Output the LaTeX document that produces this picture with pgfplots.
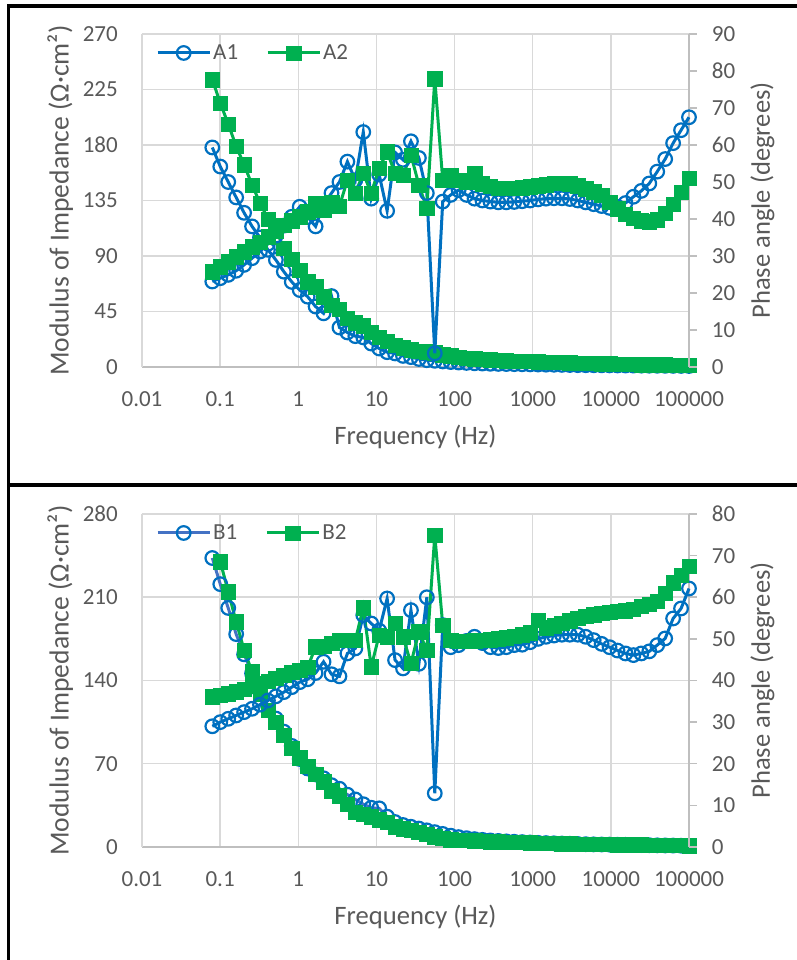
\documentclass[border=0pt]{standalone}
\usepackage{fontspec}
\setmainfont{Carlito}
\usepackage{pgfplots}
\usepackage{pgfplotstable}
\pgfplotsset{compat=1.18}
\definecolor{eblue}{HTML}{0070C0}
\definecolor{eblueb}{HTML}{4472C4}
\definecolor{egreen}{HTML}{00B050}
\definecolor{gridc}{HTML}{D9D9D9}
\definecolor{axc}{HTML}{BFBFBF}
\definecolor{labc}{HTML}{595959}

% top panel: f, A1 modulus, A1 phase, A2 modulus, A2 phase
\pgfplotstableread{
f m1 p1 m2 p2
0.0794 178 23.1 233 25.8
0.1004 162.5 24.0 214 27.1
0.1269 150 24.9 197 28.5
0.1603 137.5 26.0 179 29.8
0.2026 125 27.6 164 31.2
0.2561 114 29.4 147.6 32.5
0.3236 105 31.2 133 33.8
0.4090 95 33.3 120 35.2
0.5168 86.8 35.5 111 36.8
0.6531 77.3 38.2 96.5 38.3
0.8254 69 40.6 87.6 39.5
1.043 62.4 43.3 78.6 40.6
1.318 57 40.5 69 42.0
1.666 49 38.0 65 44.2
2.105 43.5 44.0 57 42.5
2.661 57.5 47.0 50 44.5
3.363 32 50.0 47 43.5
4.250 28 55.5 39.5 50.5
5.370 25 50.5 36 47.0
6.787 24 63.5 33.5 52.3
8.577 19 45.5 28 47.0
10.84 15 52.0 24 53.7
13.70 12 42.2 21 58.2
17.31 11 58.0 17.5 52.3
21.88 9 56.0 15.5 51.9
27.65 8 61.0 14 57.3
34.94 6.5 56.5 13 49.2
44.16 5.5 47.0 12.4 42.9
55.81 5.0 3.7 11.5 77.9
70.53 4.5 44.7 10 50.5
89.13 4.0 46.5 9 51.9
112.6 3.6 47.8 8.0 50.5
142.3 3.3 46.5 7.3 50.0
179.9 3.0 45.5 6.8 52.3
227.3 2.8 45.0 6.3 49.5
287.3 2.6 44.7 5.9 48.8
363.1 2.5 44.5 5.5 48.4
458.9 2.4 44.5 5.2 48.3
579.9 2.3 44.6 4.9 48.3
732.8 2.2 44.8 4.7 48.5
926.1 2.1 45.0 4.5 48.7
1170 2.0 45.3 4.3 49.0
1479 1.9 45.5 4.1 49.3
1869 1.8 45.6 3.9 49.6
2362 1.7 45.6 3.7 49.7
2985 1.6 45.4 3.5 49.5
3773 1.5 45.0 3.3 49.0
4768 1.45 44.5 3.1 48.2
6026 1.4 44.0 2.9 47.4
7615 1.35 43.5 2.7 46.5
9624 1.3 43.0 2.55 44.5
12162 1.25 43.3 2.4 42.8
15370 1.2 44.3 2.25 41.3
19424 1.15 46.0 2.1 40.2
24547 1.1 47.6 2.0 39.5
31022 1.05 49.6 1.9 39.3
39204 1.0 52.8 1.8 39.8
49545 0.95 56.2 1.7 41.5
62613 0.9 60.5 1.55 44.0
79127 0.85 64.0 1.45 47.2
100000 0.8 67.5 1.3 51.0
}\toptab

% bottom panel: f, B1 modulus, B1 phase, B2 modulus, B2 phase
\pgfplotstableread{
f m1 p1 m2 p2
0.0794 243 29.0 nan 36.1
0.1004 221 30.0 240 36.4
0.1269 201 30.8 214.7 36.8
0.1603 179 31.6 189.4 37.3
0.2026 162 32.4 165.6 37.9
0.2561 146 33.2 147.4 38.6
0.3236 131 34.2 129 39.3
0.4090 119 35.2 115 39.9
0.5168 108 36.2 105 40.6
0.6531 97 37.2 94 41.3
0.8254 85 38.4 83 42.0
1.043 74 39.6 75 42.5
1.318 66 40.3 68 43.2
1.666 61 41.8 61 48.1
2.105 57.8 44.5 55 48.3
2.661 52 41.5 47.5 48.9
3.363 49 41.0 43 49.7
4.250 44 46.5 36 49.7
5.370 40 47.7 29.5 49.7
6.787 36 55.7 27.5 57.5
8.577 33 53.7 25.5 43.3
10.84 32.5 52.0 23 50.9
13.70 25.5 59.7 21 50.5
17.31 21 44.9 17.1 53.7
21.88 18.5 42.9 15.5 50.5
27.65 17 56.9 14.3 44.1
34.94 15.5 44.0 12.5 51.7
44.16 14 60.0 11.0 47.3
55.81 12.5 12.9 8.5 74.9
70.53 11 53.3 7.3 53.3
89.13 9.5 48.0 6.2 49.7
112.6 8.3 48.5 5.9 49.5
142.3 7.4 49.5 5.5 49.5
179.9 6.6 50.5 5.2 49.6
227.3 6.0 49.0 4.9 49.7
287.3 5.5 48.0 4.6 49.8
363.1 5.1 47.8 4.4 50.0
458.9 4.7 48.0 4.2 50.3
579.9 4.4 48.5 4.0 50.6
732.8 4.1 48.6 3.8 51.0
926.1 3.8 49.2 3.6 51.5
1170 3.5 50.0 3.4 54.5
1479 3.3 50.5 3.2 52.7
1869 3.1 50.8 3.0 53.2
2362 2.9 51.0 2.8 53.8
2985 2.7 51.0 2.7 54.4
3773 2.5 51.0 2.6 54.9
4768 2.35 50.5 2.5 55.4
6026 2.2 49.7 2.4 55.8
7615 2.1 48.8 2.3 56.1
9624 2.0 48.0 2.2 56.4
12162 1.9 47.2 2.1 56.6
15370 1.8 46.5 2.0 56.8
19424 1.7 46.1 1.9 57.1
24547 1.6 46.5 1.8 57.8
31022 1.5 47.0 1.7 58.4
39204 1.4 48.5 1.6 59.0
49545 1.3 50.1 1.5 61.0
62613 1.2 54.9 1.4 63.5
79127 1.1 57.3 1.3 65.3
100000 1.0 62.1 1.2 67.5
}\bottab

\tikzset{
  sone/.style={color=eblue, line width=3bp, mark=o, mark size=6.8bp, mark options={line width=2.2bp, draw=eblue, fill=none}},
  sonel/.style={color=eblueb, line width=3bp, mark=o, mark size=6.8bp, mark options={line width=2.2bp, draw=eblue, fill=none}},
  stwo/.style={color=egreen, line width=3bp, mark=square*, mark size=7.2bp, mark options={line width=0.4bp, draw=egreen, fill=egreen}},
}

\begin{document}
\begin{tikzpicture}[x=1bp,y=1bp]
\useasboundingbox (0,0) rectangle (797,960);

% ---------- top panel ----------
\begin{semilogxaxis}[at={(142bp,593bp)}, anchor=south west,
    scale only axis, width=547bp, height=333bp,
    xmin=0.01, xmax=100000, ymin=0, ymax=270, ytick={0,45,90,135,180,225,270},
    clip=false,
    tick label style={font=\fontsize{23bp}{27bp}\selectfont, text=labc, inner sep=0pt},
    label style={font=\fontsize{26.6bp}{31bp}\selectfont, text=labc},
    /pgf/number format/assume math mode=true,
    axis x line*=bottom, axis y line*=left,
    x axis line style={draw=axc, line width=1.5bp},
    y axis line style={draw=gridc, line width=1.5bp},
    grid=major, major grid style={draw=gridc, line width=1.5bp},
    major tick length=0pt, minor tick length=0pt,
    xtick={0.01,0.1,1,10,100,1000,10000,100000},
    xticklabels={0.01,0.1,1,10,100,1000,10000,100000},
    xticklabel shift=24.7bp, yticklabel shift=24bp,
    xlabel={Frequency (Hz)}, ylabel={Modulus of Impedance (Ω·cm²)},
    xlabel style={at={(axis description cs:0.5,-0.2102)}, anchor=center},
    ylabel style={at={(axis description cs:-0.1494,0.5)}, anchor=center, font=\fontsize{27.6bp}{32bp}\selectfont},
    legend style={at={(axis description cs:0.0256,0.943)}, anchor=west,
      draw=none, fill=none, inner sep=0pt,
      font=\fontsize{23bp}{27bp}\selectfont, text=labc,
      /tikz/every even column/.append style={column sep=26bp}},
    legend columns=2, legend cell align=left,
    legend image code/.code={\draw[mark repeat=2,mark phase=2] plot coordinates {(0bp,0bp)(26bp,0bp)(52bp,0bp)};},
  ]
\addplot[sone] table[x=f,y=m1]{\toptab}; \addlegendentry{A1}
\addplot[stwo] table[x=f,y=m2]{\toptab}; \addlegendentry{A2}
\end{semilogxaxis}
\begin{semilogxaxis}[at={(142bp,593bp)}, anchor=south west,
    scale only axis, width=547bp, height=333bp,
    xmin=0.01, xmax=100000, ymin=0, ymax=90, ytick={0,10,20,30,40,50,60,70,80,90},
    clip=false,
    tick label style={font=\fontsize{23bp}{27bp}\selectfont, text=labc, inner sep=0pt},
    label style={font=\fontsize{26.6bp}{31bp}\selectfont, text=labc},
    /pgf/number format/assume math mode=true,
    axis x line=none, axis y line*=right,
    y axis line style={draw=axc, line width=1.5bp},
    ytick style={draw=axc, line width=1.5bp},
    tick align=outside, major tick length=8bp,
    yticklabel shift=14.7bp,
    ylabel={Phase angle (degrees)},
    ylabel style={at={(axis description cs:1.1344,0.5)}, anchor=center},
  ]
\addplot[sone] table[x=f,y=p1]{\toptab};
\addplot[stwo] table[x=f,y=p2]{\toptab};
\end{semilogxaxis}

% ---------- bottom panel ----------
\begin{semilogxaxis}[at={(142bp,113bp)}, anchor=south west,
    scale only axis, width=547bp, height=333bp,
    xmin=0.01, xmax=100000, ymin=0, ymax=280, ytick={0,70,140,210,280},
    clip=false,
    tick label style={font=\fontsize{23bp}{27bp}\selectfont, text=labc, inner sep=0pt},
    label style={font=\fontsize{26.6bp}{31bp}\selectfont, text=labc},
    /pgf/number format/assume math mode=true,
    axis x line*=bottom, axis y line*=left,
    x axis line style={draw=axc, line width=1.5bp},
    y axis line style={draw=gridc, line width=1.5bp},
    grid=major, major grid style={draw=gridc, line width=1.5bp},
    major tick length=0pt, minor tick length=0pt,
    xtick={0.01,0.1,1,10,100,1000,10000,100000},
    xticklabels={0.01,0.1,1,10,100,1000,10000,100000},
    xticklabel shift=24.7bp, yticklabel shift=24bp,
    xlabel={Frequency (Hz)}, ylabel={Modulus of Impedance (Ω·cm²)},
    xlabel style={at={(axis description cs:0.5,-0.2102)}, anchor=center},
    ylabel style={at={(axis description cs:-0.1494,0.5)}, anchor=center, font=\fontsize{27.6bp}{32bp}\selectfont},
    legend style={at={(axis description cs:0.0256,0.943)}, anchor=west,
      draw=none, fill=none, inner sep=0pt,
      font=\fontsize{23bp}{27bp}\selectfont, text=labc,
      /tikz/every even column/.append style={column sep=26bp}},
    legend columns=2, legend cell align=left,
    legend image code/.code={\draw[mark repeat=2,mark phase=2] plot coordinates {(0bp,0bp)(26bp,0bp)(52bp,0bp)};},
  ]
\addplot[sonel] table[x=f,y=m1]{\bottab}; \addlegendentry{B1}
\addplot[stwo] table[x=f,y=m2]{\bottab}; \addlegendentry{B2}
\end{semilogxaxis}
\begin{semilogxaxis}[at={(142bp,113bp)}, anchor=south west,
    scale only axis, width=547bp, height=333bp,
    xmin=0.01, xmax=100000, ymin=0, ymax=80, ytick={0,10,20,30,40,50,60,70,80},
    clip=false,
    tick label style={font=\fontsize{23bp}{27bp}\selectfont, text=labc, inner sep=0pt},
    label style={font=\fontsize{26.6bp}{31bp}\selectfont, text=labc},
    /pgf/number format/assume math mode=true,
    axis x line=none, axis y line*=right,
    y axis line style={draw=axc, line width=1.5bp},
    ytick style={draw=axc, line width=1.5bp},
    tick align=outside, major tick length=8bp,
    yticklabel shift=14.7bp,
    ylabel={Phase angle (degrees)},
    ylabel style={at={(axis description cs:1.1344,0.5)}, anchor=center},
  ]
\addplot[sone] table[x=f,y=p1]{\bottab};
\addplot[stwo] table[x=f,y=p2]{\bottab};
\end{semilogxaxis}

% panel frames
\draw[line width=3.2bp] (8.7,-10) -- (8.7,954) -- (810,954);
\draw[line width=3.2bp] (8.7,475) -- (810,475);
\end{tikzpicture}
\end{document}
